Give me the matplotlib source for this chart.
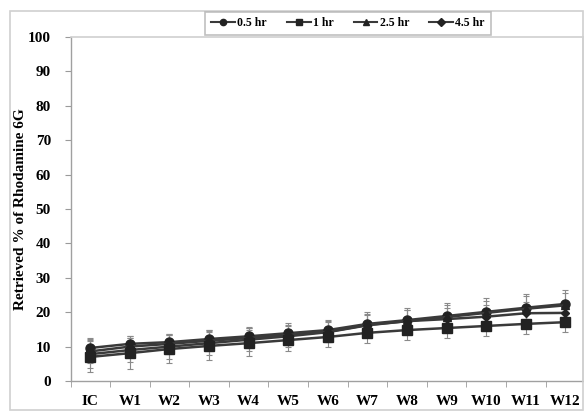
import matplotlib
matplotlib.use("Agg")
import matplotlib.pyplot as plt
from matplotlib.patches import Rectangle
import numpy as np

categories = ["IC", "W1", "W2", "W3", "W4", "W5", "W6", "W7", "W8", "W9", "W10", "W11", "W12"]
series_names = ["0.5 hr", "1 hr", "2.5 hr", "4.5 hr"]
v_05 = [9.6, 10.8, 11.3, 12.2, 13.0, 13.9, 14.8, 16.6, 17.7, 18.9, 20.1, 21.3, 22.4]
v_1 = [7.0, 8.1, 9.3, 10.2, 11.0, 11.9, 12.8, 14.0, 14.8, 15.4, 16.0, 16.6, 17.1]
v_25 = [7.8, 9.0, 10.0, 11.0, 12.0, 13.0, 14.2, 16.2, 17.4, 18.6, 19.8, 21.0, 22.0]
v_45 = [8.6, 10.0, 10.8, 11.7, 12.5, 13.4, 14.3, 16.3, 17.4, 18.0, 18.7, 19.7, 19.8]
e_05 = [3.0, 2.2, 2.5, 2.6, 2.8, 3.0, 3.0, 3.5, 3.6, 3.8, 4.0, 4.0, 4.0]
e_1 = [4.5, 4.5, 4.0, 4.0, 3.8, 3.3, 3.0, 3.0, 3.0, 2.8, 2.8, 2.8, 2.8]
e_25 = [4.0, 3.5, 3.5, 3.5, 3.3, 3.0, 3.0, 3.2, 3.3, 3.5, 3.5, 3.6, 3.6]
e_45 = [3.5, 3.0, 3.0, 3.0, 3.0, 3.0, 3.0, 3.0, 3.2, 3.2, 3.3, 3.3, 3.3]
y_ticks = [0, 10, 20, 30, 40, 50, 60, 70, 80, 90, 100]

plt.rcParams["font.family"] = ["Liberation Serif", "DejaVu Serif"]
plt.rcParams["font.weight"] = "bold"

fig = plt.figure(figsize=(5.84, 4.12), dpi=100)
# outer chart border
fig.patches.append(Rectangle((10 / 584, 1 - 410 / 412), 573 / 584, 399 / 412,
                             transform=fig.transFigure, fill=False,
                             edgecolor="#d0d0d0", linewidth=1.2))

ax = fig.add_axes([70.5 / 584, 1 - 381 / 412, 512 / 584, 344 / 412])
x = np.arange(len(categories))

styles = [
    (v_05, e_05, "o", 6.5),
    (v_25, e_25, "^", 5.5),
    (v_45, e_45, "D", 4.5),
    (v_1, e_1, "s", 6.5),
]
handles = {}
for (vals, errs, mk, ms), name in zip(styles, ["0.5 hr", "2.5 hr", "4.5 hr", "1 hr"]):
    ax.errorbar(x, vals, yerr=errs, fmt="none", ecolor="#8a8a8a",
                elinewidth=0.8, capsize=2, capthick=0.8, zorder=2)
    h, = ax.plot(x, vals, color="#3a3a3a", linewidth=1.8, marker=mk,
                 markersize=ms, markerfacecolor="#222222",
                 markeredgecolor="#222222", zorder=3)
    handles[name] = h

ax.set_xlim(-0.5, 12.43)
ax.set_ylim(0, 100)
ax.set_yticks(y_ticks)
ax.set_yticklabels([str(t) for t in y_ticks], fontsize=11, fontweight="bold")
ax.set_xticks(x)
ax.set_xticklabels(categories, fontsize=11, fontweight="bold")
ax.set_xticks(np.arange(-0.5, 12.5, 1), minor=True)
ax.tick_params(axis="x", which="major", length=0, pad=10)
ax.tick_params(axis="x", which="minor", length=4, color="#9a9a9a", direction="out")
ax.tick_params(axis="y", length=4, color="#9a9a9a", direction="out", pad=10)

for s in ["left", "bottom"]:
    ax.spines[s].set_color("#a0a0a0")
    ax.spines[s].set_linewidth(1.0)
for s in ["top", "right"]:
    ax.spines[s].set_color("#d0d0d0")
    ax.spines[s].set_linewidth(1.2)

ax.set_ylabel("Retrieved % of Rhodamine 6G", fontsize=11, fontweight="bold")
ax.yaxis.set_label_coords((27 - 70.5) / 512, 0.5)

leg = fig.legend([handles[n] for n in series_names], series_names,
                 loc="center", bbox_to_anchor=(348 / 584, 1 - 23.5 / 412),
                 ncol=4, frameon=True, fancybox=False,
                 handlelength=2.0, handletextpad=0.2, columnspacing=1.7,
                 borderpad=0.5, prop={"weight": "bold", "size": 8.5})
leg.get_frame().set_edgecolor("#b0b0b0")
leg.get_frame().set_linewidth(1.2)
for lh in leg.legend_handles:
    lh.set_markersize(4.5)
    lh.set_linewidth(1.5)

fig.savefig("out.png", dpi=100)
